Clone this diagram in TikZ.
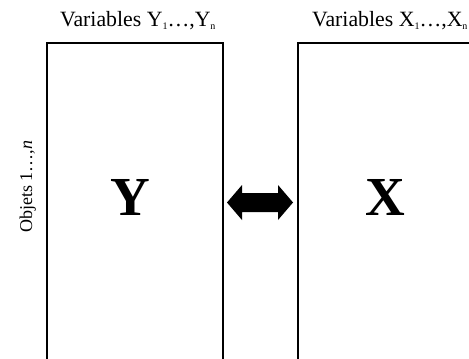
\documentclass[tikz,border=0pt]{standalone}
\usepackage{fontspec}
\setmainfont{Liberation Serif}
\newcommand{\mysub}[1]{\raisebox{-0.18em}{\fontsize{10}{10}\selectfont #1}}
\begin{document}
\begin{tikzpicture}[x=1pt,y=1pt,
  box/.style={draw=black,line width=2pt},
  title/.style={font=\fontsize{21.8}{24}\selectfont,inner sep=0pt,anchor=base west},
  big/.style={font=\fontsize{55}{60}\selectfont\bfseries,inner sep=0pt,anchor=base},
  side/.style={font=\fontsize{18}{20}\selectfont,inner sep=0pt,anchor=base west,rotate=90}]
\useasboundingbox (0,0) rectangle (469,-359);
\clip (0,0) rectangle (469,-359);
\draw[box] (47,-43) rectangle (223,-380);
\draw[box] (298,-43) rectangle (480,-380);
\node[title] (ty) at (60,-26) {Variables Y\mysub{1}\ldots,Y\mysub{n}};
\node[title] (tx) at (312,-26) {Variables X\mysub{1}\ldots,X\mysub{n}};
\node[big] (Y) at (130,-215) {Y};
\node[big] (X) at (385,-215) {X};
\node[side] (obj) at (32,-233) {Objets 1\ldots,\textit{n}};
\fill[black] (227,-202.5) -- (242,-185) -- (242,-193) -- (278,-193) -- (278,-185) -- (293,-202.5) -- (278,-220) -- (278,-212) -- (242,-212) -- (242,-220) -- cycle;
\end{tikzpicture}
\end{document}
